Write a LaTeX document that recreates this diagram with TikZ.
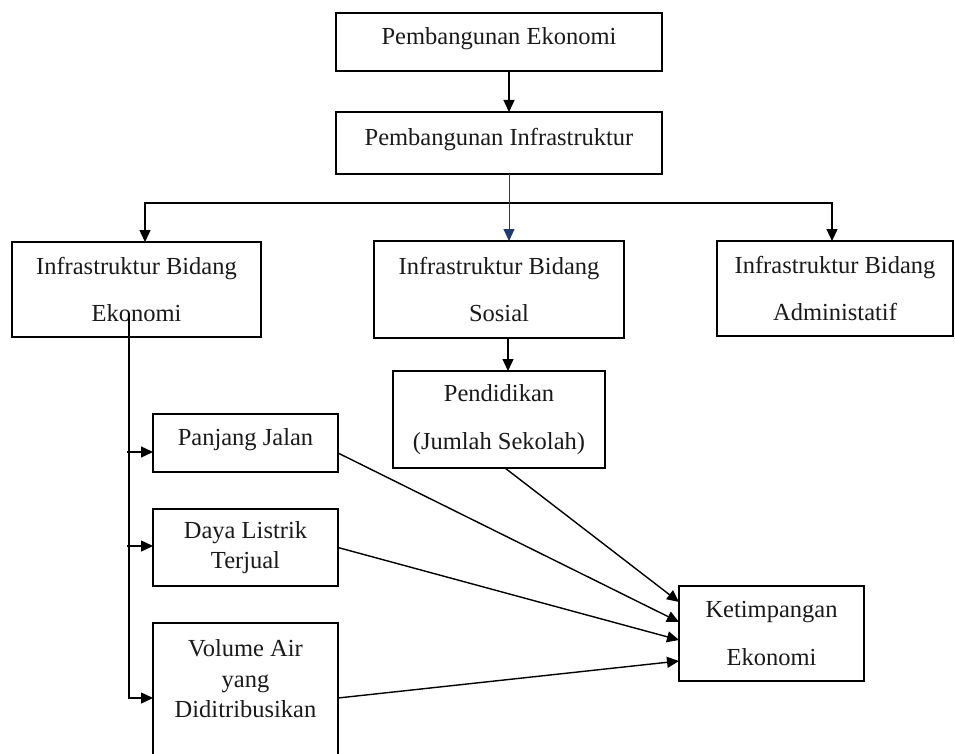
\documentclass[tikz,border=0pt]{standalone}
\usepackage{fontspec}
\setmainfont{Liberation Serif}
\usetikzlibrary{arrows.meta,calc}
\definecolor{navyline}{HTML}{1F3A6E}
\definecolor{inkc}{HTML}{1A1A1A}
\begin{document}
\begin{tikzpicture}[x=1pt,y=-1pt,
  box/.style={draw=black, line width=2.3pt, rectangle, inner sep=0pt, outer sep=0pt, text=inkc},
  one/.style={font=\fontsize{24.5}{30.5}\selectfont},
  two/.style={font=\fontsize{24.5}{47.5}\selectfont, align=center},
  conn/.style={line width=1.4pt},
  arr/.style={conn, -{Triangle[length=12pt,width=11pt]}}
]
\useasboundingbox (0,0) rectangle (955,754);
\clip (0,0) rectangle (955,754);
\fill[white] (0,0) rectangle (955,754);

\node[box,one,text depth=12pt,minimum width=326pt,minimum height=58pt] (pe) at (499,42) {Pembangunan Ekonomi};
\node[box,one,text depth=12pt,minimum width=326pt,minimum height=62pt] (pi) at (499,143) {Pembangunan Infrastruktur};
\node[box,two,minimum width=249pt,minimum height=95pt] (eko) at (136.5,289.5) {Infrastruktur Bidang\\Ekonomi};
\node[box,two,minimum width=250pt,minimum height=97pt] (sos) at (499,289.5) {Infrastruktur Bidang\\Sosial};
\node[box,two,minimum width=236pt,minimum height=95pt] (adm) at (835,288.5) {Infrastruktur Bidang\\Administatif};
\node[box,two,minimum width=212pt,minimum height=97pt] (pend) at (499,419.5) {Pendidikan\\(Jumlah Sekolah)};
\node[box,one,text depth=12pt,minimum width=185pt,minimum height=58pt] (pj) at (245.5,443) {Panjang Jalan};
\node[box,one,align=center,minimum width=185pt,minimum height=77pt] (dl) at (245.5,547.5) {Daya Listrik\\Terjual};
\node[box,minimum width=185pt,minimum height=180pt,anchor=north] (vol) at (245.5,623) {};
\node[one,align=center,inner sep=0pt,anchor=north,text=inkc] (voltxt) at ($(vol.north)+(0,16.3)$) {Volume Air\\yang\\Diditribusikan};
\node[box,two,minimum width=185pt,minimum height=95pt] (ket) at (771.5,633.5) {Ketimpangan\\Ekonomi};

% top chain
\draw[arr] ([xshift=10pt]pe.south) -- ([xshift=10pt]pi.north);
\coordinate (hub) at ([xshift=10pt,yshift=-29pt]pi.south);
\draw[arr] (hub) -| ([xshift=8.5pt]eko.north);
\draw[arr] (hub) -| ([xshift=-3pt]adm.north);
\draw[line width=1pt,navyline,-{Triangle[length=12pt,width=11pt]}] ([xshift=10pt]pi.south) -- ([xshift=10pt]sos.north);
\draw[arr] ([xshift=9pt]sos.south) -- ([xshift=9pt]pend.north);

% left trunk
\coordinate (trunk) at ([xshift=-7.5pt,yshift=24pt]eko.south);
\draw[arr] (trunk) |- ([yshift=-75pt]vol.north west);
\draw[arr] ([xshift=-26pt,yshift=-9pt]pj.west) -- ([yshift=-9pt]pj.west);
\draw[arr] ([xshift=-26pt,yshift=1.5pt]dl.west) -- ([yshift=1.5pt]dl.west);

% into Ketimpangan
\draw[arr] ([xshift=6pt]pend.south) -- ([yshift=31.5pt]ket.west);
\draw[arr] ([yshift=-10pt]pj.east) -- ([yshift=11.5pt]ket.west);
\draw[arr] (dl.east) -- ([yshift=-6.5pt]ket.west);
\draw[arr] ([yshift=-75pt]vol.north east) -- ([yshift=-27.5pt]ket.west);
\end{tikzpicture}
\end{document}
